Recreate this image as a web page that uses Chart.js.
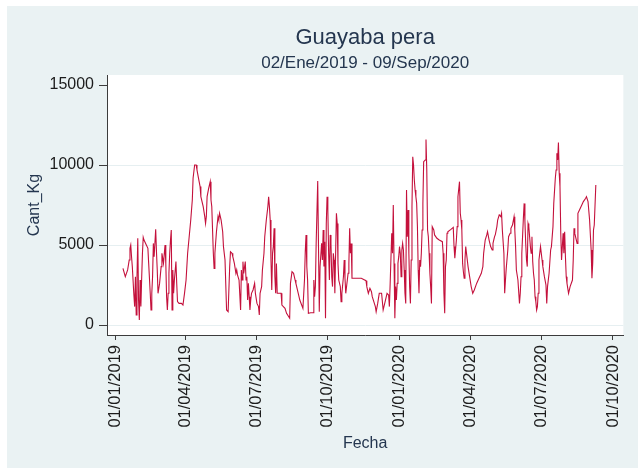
<!DOCTYPE html>
<html>
<head>
<meta charset="utf-8">
<script src="https://cdn.jsdelivr.net/npm/chart.js@4.4.1/dist/chart.umd.min.js"></script>
<style>
  html, body { margin: 0; padding: 0; background: #fff; }
  #wrap { width: 638px; height: 468px; }
</style>
</head>
<body>
<div id="wrap"><canvas id="chart" width="638" height="468"></canvas></div>
<script>
const CHART_TITLE = 'Guayaba pera';
const CHART_SUBTITLE = '02/Ene/2019 - 09/Sep/2020';
const X_TITLE = 'Fecha';
const Y_TITLE = 'Cant_Kg';

// fechas de cada observacion
const fechas = [
  '2019-01-11','2019-01-14','2019-01-17','2019-01-19','2019-01-20','2019-01-21','2019-01-22','2019-01-23','2019-01-25','2019-01-26','2019-01-27','2019-01-28','2019-01-29','2019-01-30','2019-01-31',
  '2019-02-01','2019-02-02','2019-02-03','2019-02-04','2019-02-05','2019-02-06','2019-02-07','2019-02-10','2019-02-12','2019-02-13','2019-02-15','2019-02-16','2019-02-17','2019-02-18','2019-02-19','2019-02-20','2019-02-22','2019-02-23','2019-02-24','2019-02-25','2019-02-27',
  '2019-03-01','2019-03-02','2019-03-04','2019-03-06','2019-03-07','2019-03-08','2019-03-09','2019-03-10','2019-03-11','2019-03-12','2019-03-13','2019-03-14','2019-03-15','2019-03-16','2019-03-17','2019-03-18','2019-03-20','2019-03-21','2019-03-22','2019-03-24','2019-03-27','2019-03-29','2019-03-31',
  '2019-04-02','2019-04-04','2019-04-06','2019-04-08','2019-04-10','2019-04-11','2019-04-13','2019-04-15','2019-04-16','2019-04-18','2019-04-20','2019-04-21','2019-04-24','2019-04-26','2019-04-27','2019-04-28','2019-04-29',
  '2019-05-01','2019-05-03','2019-05-04','2019-05-05','2019-05-07','2019-05-08','2019-05-09','2019-05-11','2019-05-13','2019-05-14','2019-05-15','2019-05-17','2019-05-19','2019-05-20','2019-05-22','2019-05-24','2019-05-26','2019-05-27','2019-05-28','2019-05-29','2019-05-31',
  '2019-06-01','2019-06-03','2019-06-05','2019-06-06','2019-06-07','2019-06-09','2019-06-11','2019-06-12','2019-06-13','2019-06-14','2019-06-15','2019-06-17','2019-06-18','2019-06-19','2019-06-20','2019-06-21','2019-06-22','2019-06-23','2019-06-24','2019-06-25','2019-06-27','2019-06-29','2019-06-30',
  '2019-07-02','2019-07-04','2019-07-05','2019-07-06','2019-07-08','2019-07-09','2019-07-11','2019-07-12','2019-07-14','2019-07-16','2019-07-17','2019-07-18','2019-07-19','2019-07-20','2019-07-21','2019-07-22','2019-07-23','2019-07-24','2019-07-25','2019-07-26','2019-07-27','2019-07-28','2019-07-29',
  '2019-08-02','2019-08-03','2019-08-07','2019-08-09','2019-08-13','2019-08-14','2019-08-16','2019-08-18','2019-08-20','2019-08-21','2019-08-24','2019-08-26','2019-08-30',
  '2019-09-01','2019-09-02','2019-09-03','2019-09-04','2019-09-05','2019-09-06','2019-09-09','2019-09-12','2019-09-13','2019-09-14','2019-09-15','2019-09-16','2019-09-18','2019-09-19','2019-09-20','2019-09-21','2019-09-23','2019-09-24','2019-09-25','2019-09-26','2019-09-27','2019-09-28','2019-09-29','2019-09-30',
  '2019-10-01','2019-10-02','2019-10-03','2019-10-04','2019-10-05','2019-10-06','2019-10-07','2019-10-08','2019-10-09','2019-10-10','2019-10-11','2019-10-12','2019-10-13','2019-10-14','2019-10-15','2019-10-17','2019-10-18','2019-10-19','2019-10-21','2019-10-22','2019-10-23','2019-10-24','2019-10-26','2019-10-27','2019-10-28','2019-10-29','2019-10-30','2019-10-31',
  '2019-11-01','2019-11-13','2019-11-16','2019-11-19','2019-11-20','2019-11-22','2019-11-24','2019-11-26','2019-11-27','2019-11-29',
  '2019-12-01','2019-12-02','2019-12-04','2019-12-06','2019-12-07','2019-12-09','2019-12-11','2019-12-13','2019-12-14','2019-12-16','2019-12-18','2019-12-19','2019-12-20','2019-12-22','2019-12-23','2019-12-24','2019-12-25','2019-12-26','2019-12-27','2019-12-28','2019-12-29','2019-12-30','2019-12-31',
  '2020-01-01','2020-01-02','2020-01-03','2020-01-04','2020-01-05','2020-01-06','2020-01-07','2020-01-08','2020-01-09','2020-01-10','2020-01-11','2020-01-12','2020-01-13','2020-01-14','2020-01-15','2020-01-16','2020-01-17','2020-01-18','2020-01-19','2020-01-20','2020-01-21','2020-01-22','2020-01-23','2020-01-24','2020-01-25','2020-01-26','2020-01-27','2020-01-28','2020-01-29','2020-01-30','2020-01-31',
  '2020-02-01','2020-02-03','2020-02-04','2020-02-05','2020-02-06','2020-02-07','2020-02-08','2020-02-09','2020-02-10','2020-02-11','2020-02-12','2020-02-14','2020-02-15','2020-02-18','2020-02-21','2020-02-25','2020-02-26','2020-02-27','2020-02-28','2020-02-29',
  '2020-03-01','2020-03-02','2020-03-03','2020-03-07','2020-03-10','2020-03-11','2020-03-12','2020-03-14','2020-03-15','2020-03-16','2020-03-18','2020-03-19','2020-03-20','2020-03-21','2020-03-22','2020-03-23','2020-03-24','2020-03-25','2020-03-26','2020-03-27','2020-03-29','2020-03-31',
  '2020-04-02','2020-04-04','2020-04-06','2020-04-09','2020-04-12','2020-04-15','2020-04-17','2020-04-18','2020-04-20','2020-04-22','2020-04-23','2020-04-25','2020-04-27','2020-04-29','2020-04-30',
  '2020-05-02','2020-05-03','2020-05-05','2020-05-06','2020-05-08','2020-05-10','2020-05-11','2020-05-12','2020-05-14','2020-05-15','2020-05-16','2020-05-17','2020-05-19','2020-05-20','2020-05-22','2020-05-23','2020-05-25','2020-05-27','2020-05-28','2020-05-29','2020-05-30',
  '2020-06-01','2020-06-03','2020-06-04','2020-06-05','2020-06-06','2020-06-08','2020-06-09','2020-06-10','2020-06-11','2020-06-12','2020-06-13','2020-06-14','2020-06-15','2020-06-16','2020-06-17','2020-06-18','2020-06-19','2020-06-20','2020-06-21','2020-06-22','2020-06-23','2020-06-24','2020-06-25','2020-06-26','2020-06-27','2020-06-28','2020-06-30',
  '2020-07-01','2020-07-02','2020-07-03','2020-07-05','2020-07-07','2020-07-08','2020-07-09','2020-07-11','2020-07-13','2020-07-14','2020-07-16','2020-07-17','2020-07-19','2020-07-20','2020-07-21','2020-07-22','2020-07-23','2020-07-24','2020-07-25','2020-07-26','2020-07-27','2020-07-28','2020-07-29','2020-07-30','2020-07-31',
  '2020-08-01','2020-08-02','2020-08-03','2020-08-05','2020-08-07','2020-08-10','2020-08-11','2020-08-12','2020-08-13','2020-08-16','2020-08-17','2020-08-19','2020-08-22','2020-08-24','2020-08-27','2020-08-28','2020-08-30',
  '2020-09-01','2020-09-03','2020-09-04','2020-09-05','2020-09-06','2020-09-07','2020-09-09'
];

// kilos por fecha
const cantKg = [
  3540,3020,3440,4060,4790,5000,4270,3650,1880,1150,3020,630,3020,5420,1560,
  310,2810,1150,2920,4480,5480,5310,5000,4790,3850,1980,940,1980,3020,5100,4270,5980,4580,3440,1980,2600,
  3650,4480,3850,5000,3850,1770,940,1980,3230,4480,5310,5940,940,3440,1980,2810,3960,2600,1460,1350,1350,1250,1980,
  2810,4480,5520,6560,7810,9170,10000,10000,9690,9170,8650,8020,7400,6770,6350,6770,8020,
  8540,8960,7810,7400,4480,3540,4480,5830,6770,6560,6980,6560,5830,4900,4060,940,830,830,3650,4580,4480,
  4270,3850,3230,3440,3130,2810,940,3440,2810,3960,3230,3960,2810,3020,1560,2600,1770,940,1560,1980,2190,2600,1980,
  1350,1150,630,1980,2400,3440,4480,5520,6560,7400,8020,7400,6560,4060,2190,4480,4900,6040,3020,1980,3850,1980,1980,
  1980,1250,1040,730,420,2600,3330,3230,2810,2600,1980,1560,1040,
  2810,4580,5630,3650,2810,730,770,770,2810,1770,2400,5100,9000,4900,830,3650,5100,4060,5940,3650,5210,420,6350,8020,
  7190,4480,2810,5630,5100,3020,2400,4480,4060,1980,4480,6980,6350,3850,2810,2400,1460,1980,3020,4060,2920,1980,2810,3230,3850,6040,4480,5100,
  2920,2920,2850,2770,2400,1980,2290,2080,1770,1460,
  1150,830,1350,1980,1980,1980,940,1350,1560,1980,1880,1150,2600,5730,4480,7500,3850,420,2400,1560,2600,3850,4270,
  4900,4480,3020,4690,5100,4690,3440,1980,1350,8440,5520,7190,4480,2400,1350,4060,7400,10520,10000,9060,8440,8020,7600,6150,3440,1980,4060,3650,4480,5940,7600,
  10210,10310,11600,9690,5940,5520,4480,3230,2400,1350,6150,5940,5630,5420,5310,5210,4480,1980,730,3650,
  4060,5730,5830,5980,6100,4900,4170,5310,6150,8020,8960,6980,6560,5940,3850,3330,2920,4060,4900,4480,3650,3020,
  2400,1980,2190,2600,2920,3230,3650,4480,5310,5630,5830,5310,4900,4690,5100,
  5520,5650,6150,6560,6880,6770,6980,5940,4480,1980,2810,3540,4690,5520,5730,6040,6250,6770,5940,4900,3440,
  2810,1350,1980,3020,4480,6670,7600,6460,5100,4060,3650,6350,6150,5520,4900,4480,5520,3960,3230,2810,1770,1460,940,1150,1980,4060,4900,
  4480,4060,3650,3020,2500,1350,2400,3230,4690,4900,6150,7600,9170,9690,10730,10310,11400,9480,8650,5730,4060,4900,5730,4480,5830,
  4270,3020,2600,1980,2400,2810,4060,6040,5730,5100,6980,7190,7500,7710,7920,8020,7710,
  6560,4690,2920,3850,5940,6250,8750
];

const xTickLabels = ['01/01/2019','01/04/2019','01/07/2019','01/10/2019','01/01/2020','01/04/2020','01/07/2020','01/10/2020'];
const yTickValues = [0, 5000, 10000, 15000];

const FONT = "'Liberation Sans', Arial, Helvetica, sans-serif";
const BG = '#eaf2f3';
const LINE_COLOR = '#c4113c';
const AXIS_COLOR = '#3c3c3c';
const TEXT_COLOR = '#24364f';
const BASE = Date.UTC(2019, 0, 1);

function dayFromIso(s) {
    const p = s.split('-').map(Number);
    return (Date.UTC(p[0], p[1] - 1, p[2]) - BASE) / 86400000;
}
function dayFromLabel(s) {
    const p = s.split('/').map(Number);
    return (Date.UTC(p[2], p[1] - 1, p[0]) - BASE) / 86400000;
}

const points = fechas.map((f, i) => ({ x: dayFromIso(f), y: cantKg[i] }));
const tickDays = xTickLabels.map(dayFromLabel);

const backgroundPlugin = {
    id: 'stataBackground',
    beforeDraw(chart) {
        const { ctx, chartArea, width, height } = chart;
        ctx.save();
        ctx.fillStyle = '#ffffff';
        ctx.fillRect(0, 0, width, height);
        ctx.fillStyle = BG;
        ctx.fillRect(7, 6, width - 7, height - 6);
        ctx.fillStyle = '#ffffff';
        ctx.fillRect(chartArea.left, chartArea.top, chartArea.right - chartArea.left, chartArea.bottom - chartArea.top);
        ctx.restore();
    }
};

const textPlugin = {
    id: 'stataText',
    afterDraw(chart) {
        const { ctx, chartArea } = chart;
        const cx = (chartArea.left + chartArea.right) / 2;
        const cy = (chartArea.top + chartArea.bottom) / 2;
        ctx.save();
        ctx.fillStyle = TEXT_COLOR;
        ctx.textAlign = 'center';
        ctx.textBaseline = 'alphabetic';
        ctx.font = '22px ' + FONT;
        ctx.fillText(CHART_TITLE, cx, 44);
        ctx.font = '17px ' + FONT;
        ctx.fillText(CHART_SUBTITLE, cx, 68);
        ctx.font = '16px ' + FONT;
        ctx.fillText(X_TITLE, cx, 448);
        ctx.translate(38.5, cy);
        ctx.rotate(-Math.PI / 2);
        ctx.fillText(Y_TITLE, 0, 0);
        ctx.restore();
    }
};

new Chart(document.getElementById('chart'), {
    type: 'line',
    data: {
        datasets: [{
            data: points,
            borderColor: LINE_COLOR,
            borderWidth: 1.1,
            pointRadius: 0,
            tension: 0,
            fill: false
        }]
    },
    options: {
        responsive: false,
        animation: false,
        devicePixelRatio: 1,
        layout: { padding: { top: 75, right: 12, left: 0, bottom: 0 } },
        plugins: {
            legend: { display: false },
            tooltip: { enabled: false },
            title: { display: false }
        },
        scales: {
            x: {
                type: 'linear',
                min: -10.5,
                max: 652.3,
                afterBuildTicks: s => { s.ticks = tickDays.map(v => ({ value: v })); },
                afterFit: s => { s.height = 133; },
                ticks: {
                    autoSkip: false,
                    minRotation: 90,
                    maxRotation: 90,
                    padding: 5,
                    color: '#1c1c1c',
                    font: { family: FONT, size: 16.5 },
                    callback: (v, i) => xTickLabels[i]
                },
                grid: { drawOnChartArea: false, tickLength: 5, tickColor: AXIS_COLOR },
                border: { color: AXIS_COLOR, width: 1 }
            },
            y: {
                type: 'linear',
                min: -625,
                max: 15625,
                afterBuildTicks: s => { s.ticks = yTickValues.map(v => ({ value: v })); },
                afterFit: s => { s.width = 107; },
                ticks: {
                    padding: 5,
                    color: '#1c1c1c',
                    font: { family: FONT, size: 16 },
                    callback: v => String(v)
                },
                grid: {
                    color: c => (c.tick && c.tick.value === 15000) ? 'rgba(0,0,0,0)' : '#e6eff1',
                    lineWidth: 1,
                    tickLength: 8,
                    tickColor: AXIS_COLOR
                },
                border: { color: AXIS_COLOR, width: 1 }
            }
        }
    },
    plugins: [backgroundPlugin, textPlugin]
});
</script>
</body>
</html>
